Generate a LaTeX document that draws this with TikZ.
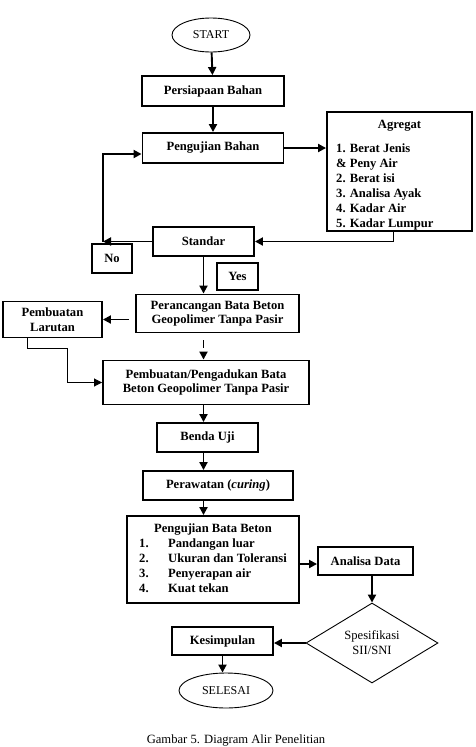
\documentclass[tikz,border=0pt]{standalone}
\usepackage{fontspec}
\setmainfont{Liberation Serif}
\usetikzlibrary{shapes.geometric,arrows.meta,calc}

\begin{document}
\begin{tikzpicture}[x=1pt,y=-1pt,
        kotak/.style={draw,line width=1.9pt,inner sep=0pt,align=center,
            font=\bfseries\fontsize{12.6}{15}\selectfont},
        teks/.style={inner sep=0pt,font=\bfseries\fontsize{12.6}{15}\selectfont},
        oval/.style={draw,ellipse,line width=0.9pt,inner sep=0pt,
            font=\fontsize{12}{14}\selectfont},
        panah/.style={line width=1.9pt,-{Triangle[length=8pt,width=8pt]}}]
    \useasboundingbox (0,0) rectangle (476,747);
    % Nodes
    \node[oval,minimum width=78,minimum height=34] (start) at (211,35) {START};
    \node[kotak,minimum width=142,minimum height=30] (persiapan) at (213,91) {Persiapaan Bahan};
    \node[kotak,minimum width=141,minimum height=30] (pengujian) at (213,148) {Pengujian Bahan};
    \node[teks] (agregatjudul) at (399.5,126) {Agregat};                    % Title of the box
    \node[teks,align=left,anchor=west] (agregatdaftar) at (336,187)
        {1. Berat Jenis\\ \& Peny Air\\ 2. Berat isi\\ 3. Analisa Ayak\\ 4. Kadar Air\\ 5. Kadar Lumpur};
    \node[kotak,minimum width=145,minimum height=119] (agregat) at (399.5,171.5) {}; % Border over the list
    \node[kotak,minimum width=101,minimum height=29] (standar) at (203.5,241.5) {Standar};
    \node[kotak,minimum width=40,minimum height=29] (no) at (112,258.5) {No};
    \node[kotak,minimum width=41,minimum height=27] (yes) at (237.5,276.5) {Yes};
    \node[kotak,minimum width=163,minimum height=38,font=\bfseries\fontsize{12.6}{13.5}\selectfont]
        (perancangan) at (217.5,313.5) {Perancangan Bata Beton\\Geopolimer Tanpa Pasir};
    \node[kotak,minimum width=99,minimum height=36] (larutan) at (52.5,319.5) {Pembuatan\\Larutan};
    \node[kotak,minimum width=206,minimum height=44,font=\bfseries\fontsize{12.6}{14}\selectfont]
        (pembuatan) at (206,382.5) {Pembuatan/Pengadukan Bata\\Beton Geopolimer Tanpa Pasir};
    \node[kotak,minimum width=101,minimum height=29] (bendauji) at (207.5,437.5) {Benda Uji};
    \node[kotak,minimum width=150,minimum height=29] (perawatan) at (218,485.5) {Perawatan (\textit{curing})};
    \node[kotak,minimum width=172,minimum height=87] (ujibata) at (213,559.5)
        {\begin{tabular}{@{}l@{\hspace{19.5pt}}l@{}}
            \multicolumn{2}{c}{Pengujian Bata Beton}\\
            1. & Pandangan luar\\
            2. & Ukuran dan Toleransi\\
            3. & Penyerapan air\\
            4. & Kuat tekan
        \end{tabular}};
    \node[kotak,minimum width=95,minimum height=28] (analisa) at (365.5,561) {Analisa Data};
    \node[draw,diamond,line width=0.9pt,inner sep=0pt,minimum width=132,minimum height=80,
        align=center,font=\fontsize{12.6}{15}\selectfont] (spesifikasi) at (372,643) {Spesifikasi\\SII/SNI};
    \node[kotak,minimum width=101,minimum height=28] (kesimpulan) at (222.5,641) {Kesimpulan};
    \node[oval,minimum width=94,minimum height=35] (selesai) at (226,690.5) {SELESAI};
    \node[inner sep=0pt,anchor=base,font=\fontsize{12.6}{15}\selectfont] (judul) at (236,743.5)
        {Gambar 5. Diagram Alir Penelitian};
    \coordinate (belok) at (103,241.5);                                  % Corner of the "No" loop
    % Connectors
    \draw[panah] (start) -- (persiapan);
    \draw[panah] (persiapan) -- (pengujian);
    \draw[panah] (pengujian.east) -- (pengujian.east -| agregat.west);
    \draw[panah] ($(agregat.south)+(-6,0)$) |- (standar.east);
    \draw[panah] (standar.west) -- (belok);
    \draw[panah] (belok) |- ($(pengujian.west)+(0,6)$);
    \draw[panah] (standar.south) -- (standar.south |- perancangan.north);
    \draw[panah] ($(perancangan.west |- larutan.east)+(-6,0)$) -- (larutan.east);
    \draw[panah,dash pattern=on 0pt off 7pt on 8pt off 20pt]
        (perancangan.south -| standar.south) -- (standar.south |- pembuatan.north);  % Dashed step
    \draw[panah,line width=0.9pt] ($(larutan.south west)+(25,0)$) |- (67,348) |- (pembuatan.west);
    \draw[panah] (pembuatan.south -| standar.south) -- (standar.south |- bendauji.north);
    \draw[panah] (bendauji.south -| standar.south) -- (standar.south |- perawatan.north);
    \draw[panah] (perawatan.south -| standar.south) -- (standar.south |- ujibata.north);
    \draw[panah] ($(ujibata.east)+(0,4.5)$) -- ($(ujibata.east -| analisa.west)+(0,4.5)$);
    \draw[panah] (analisa.south -| spesifikasi.north) -- (spesifikasi.north);
    \draw[panah] (spesifikasi.west) -- (spesifikasi.west -| kesimpulan.east);
    \draw[panah] (kesimpulan.south) -- (kesimpulan.south |- selesai.north);
\end{tikzpicture}
\end{document}
